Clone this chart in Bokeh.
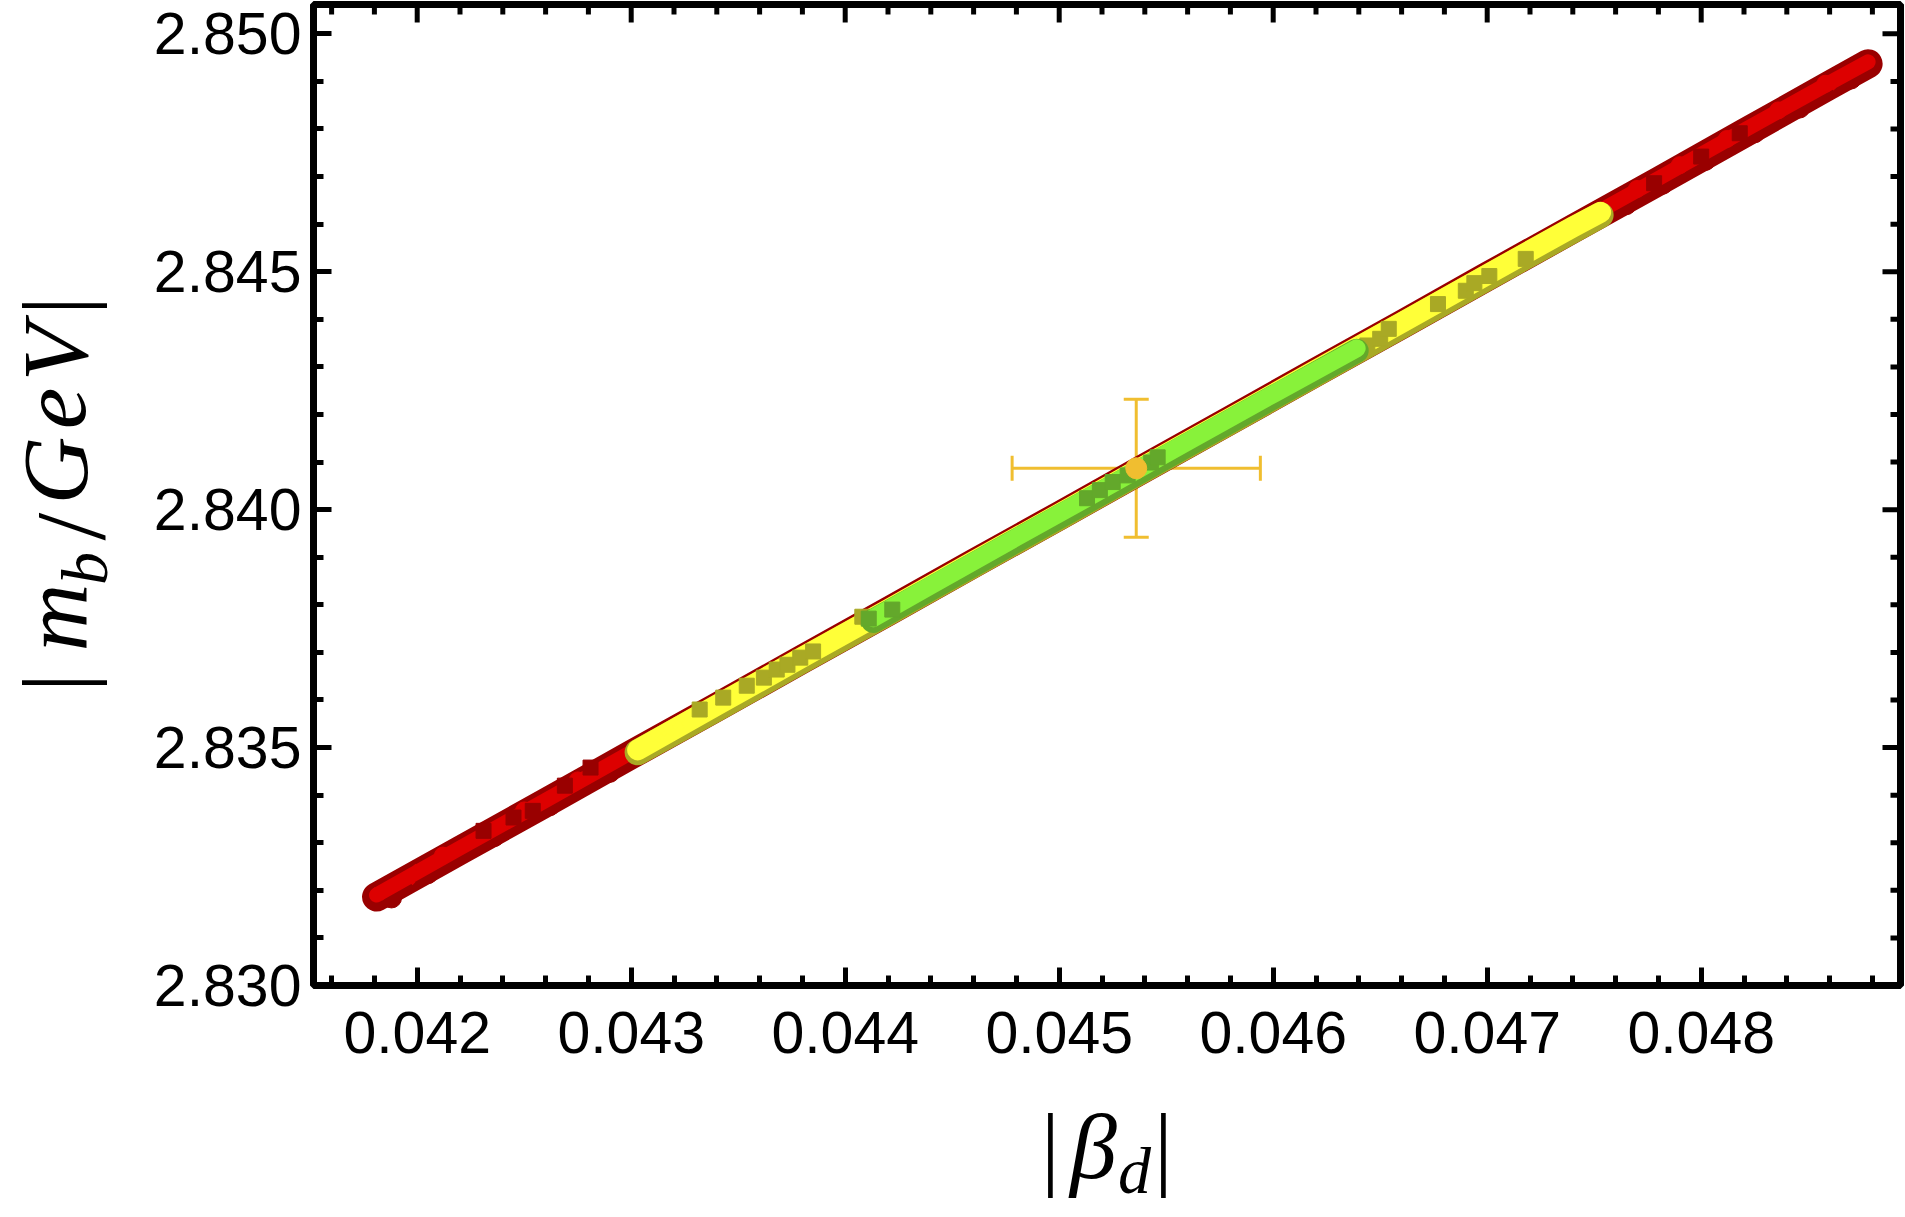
from bokeh.plotting import figure
from bokeh.layouts import row, column
from bokeh.models import (SingleIntervalTicker, NumeralTickFormatter, Label,
                          Whisker, TeeHead, ColumnDataSource, Range1d)
from bokeh.embed import file_html
from bokeh.resources import INLINE

# ---------------- data ----------------
# full (red) band centre line
red_x = [0.04181, 0.04220, 0.04260, 0.04300, 0.04340, 0.04380, 0.04420, 0.04460, 0.04500, 0.04540,
         0.04580, 0.04620, 0.04660, 0.04700, 0.04740, 0.04780, 0.04820, 0.04860, 0.04878]
red_y = [2.83186, 2.83284, 2.83384, 2.83485, 2.83585, 2.83686, 2.83786, 2.83887, 2.83987, 2.84088,
         2.84188, 2.84289, 2.84389, 2.84490, 2.84590, 2.84690, 2.84791, 2.84892, 2.84937]
red_core_y = [2.83190, 2.83289, 2.83389, 2.83490, 2.83590, 2.83691, 2.83791, 2.83892, 2.83992, 2.84093,
              2.84193, 2.84294, 2.84394, 2.84495, 2.84596, 2.84696, 2.84797, 2.84897, 2.84941]
# scalloped edge of the red band (dark red circles)
bump_dred_x = [0.04188, 0.04205, 0.04236, 0.04262, 0.04290, 0.04765, 0.04782, 0.04802, 0.04825,
               0.04846, 0.04870]
bump_dred_y = [2.83184, 2.83235, 2.83313, 2.83378, 2.83448, 2.84641, 2.84684, 2.84734, 2.84792,
               2.84844, 2.84905]
bump_red_x = [0.04212, 0.04250, 0.04275, 0.04770, 0.04790, 0.04812, 0.04836, 0.04858]
bump_red_y = [2.83273, 2.83368, 2.83431, 2.84674, 2.84724, 2.84779, 2.84839, 2.84895]

# yellow band
yel_x = [0.04303, 0.04340, 0.04380, 0.04420, 0.04460, 0.04500, 0.04540, 0.04580, 0.04620, 0.04660,
         0.04700, 0.04740, 0.04753]
olive_y = [2.83490, 2.83582, 2.83683, 2.83783, 2.83884, 2.83984, 2.84085, 2.84185, 2.84286, 2.84386,
           2.84487, 2.84587, 2.84619]
yel_y = [2.83495, 2.83589, 2.83690, 2.83790, 2.83891, 2.83991, 2.84092, 2.84192, 2.84293, 2.84393,
         2.84494, 2.84594, 2.84625]

# green band
grn_x = [0.04413, 0.04440, 0.04480, 0.04520, 0.04560, 0.04600, 0.04639]
grn_y = [2.83766, 2.83834, 2.83935, 2.84035, 2.84136, 2.84236, 2.84334]
lgrn_y = [2.83772, 2.83841, 2.83942, 2.84042, 2.84143, 2.84243, 2.84339]

# square markers
sq_olive_x = [0.04332, 0.04343, 0.04354, 0.04362, 0.04368, 0.04373, 0.04379, 0.04385, 0.04408,
              0.04644, 0.04650, 0.04654, 0.04677, 0.04690, 0.04694, 0.04701, 0.04718]
sq_olive_y = [2.83580, 2.83605, 2.83630, 2.83647, 2.83664, 2.83674, 2.83689, 2.83702, 2.83775,
              2.84345, 2.84359, 2.84380, 2.84432, 2.84460, 2.84476, 2.84491, 2.84527]
sq_green_x = [0.04411, 0.04422, 0.04513, 0.04519, 0.04525, 0.04532, 0.04543, 0.04546]
sq_green_y = [2.83771, 2.83790, 2.84024, 2.84041, 2.84058, 2.84072, 2.84099, 2.84110]
sq_dred_x = [0.04231, 0.04245, 0.04254, 0.04269, 0.04281, 0.04778, 0.04800, 0.04818]
sq_dred_y = [2.83325, 2.83353, 2.83367, 2.83420, 2.83458, 2.84686, 2.84742, 2.84791]
x_red_x = [0.04182, 0.04196, 0.04201, 0.04860]
x_red_y = [2.83193, 2.83225, 2.83242, 2.84895]
x_yel_x = [0.04311, 0.04317, 0.04322]
x_yel_y = [2.83523, 2.83536, 2.83551]

# measured point with errors
pt_x = [0.04536]
pt_y = [2.84087]
pt_xerr = [0.00058]
pt_yerr = [0.00145]

# axis ticks
x_major = [0.042, 0.043, 0.044, 0.045, 0.046, 0.047, 0.048]
y_major = [2.830, 2.835, 2.840, 2.845, 2.850]
tick_format = "0.000"

# ---------------- layout (canvas px == page px) ----------------
W, H = 1905, 1215
WY = 125                       # width of y-title strip
HP = 1090                      # height of main plot
HX = H - HP                    # height of x-title strip
PL, PR, PT, PB = 313, 1900, 4, 985      # frame edges in page px
X0, X1 = 0.0415154, 0.0489313
Y0, Y1 = 2.830, 2.850616

p = figure(width=W - WY, height=HP, output_backend="svg", toolbar_location=None,
           x_range=Range1d(X0, X1), y_range=Range1d(Y0, Y1),
           min_border_left=PL - WY, min_border_right=W - PR, min_border_top=PT,
           min_border_bottom=HP - PB)
p.xgrid.grid_line_color = None
p.ygrid.grid_line_color = None
p.outline_line_color = "black"
p.outline_line_width = 7
p.background_fill_color = "white"
p.border_fill_color = "white"

p.xaxis.ticker = SingleIntervalTicker(interval=0.001, num_minor_ticks=5)
p.yaxis.ticker = SingleIntervalTicker(interval=0.005, num_minor_ticks=5)
for ax in p.xaxis + p.yaxis:
    ax.axis_line_color = None
    ax.major_tick_in = 18
    ax.major_tick_out = 0
    ax.minor_tick_in = 10
    ax.minor_tick_out = 0
    ax.major_tick_line_width = 5
    ax.minor_tick_line_width = 5
    ax.major_tick_line_color = "black"
    ax.minor_tick_line_color = "black"
    ax.major_label_text_font = "Liberation Sans"
    ax.major_label_text_font_size = "59px"
    ax.major_label_text_color = "black"
    ax.formatter = NumeralTickFormatter(format=tick_format)
p.xaxis.major_label_standoff = 26
p.yaxis.major_label_standoff = 12

# mirrored ticks on top and right edges of the frame
px_per_x = (PR - PL) / (X1 - X0)
px_per_y = (PB - PT) / (Y1 - Y0)
x_minor = [round(0.0416 + 0.0002 * i, 5) for i in range(37)]
x_minor = [v for v in x_minor if all(abs(v - m) > 1e-7 for m in x_major) and X0 < v < X1]
y_minor = [round(2.830 + 0.001 * i, 3) for i in range(21)]
y_minor = [v for v in y_minor if all(abs(v - m) > 1e-7 for m in y_major)]
p.segment(x0=x_major, x1=x_major, y0=[Y1] * len(x_major), y1=[Y1 - 18 / px_per_y] * len(x_major),
          line_width=5, line_color="black")
p.segment(x0=x_minor, x1=x_minor, y0=[Y1] * len(x_minor), y1=[Y1 - 10 / px_per_y] * len(x_minor),
          line_width=5, line_color="black")
p.segment(x0=[X1] * len(y_major), x1=[X1 - 18 / px_per_x] * len(y_major), y0=y_major, y1=y_major,
          line_width=5, line_color="black")
p.segment(x0=[X1] * len(y_minor), x1=[X1 - 10 / px_per_x] * len(y_minor), y0=y_minor, y1=y_minor,
          line_width=5, line_color="black")

# ---------------- bands ----------------
DRED, RED = "#990000", "#DD0000"
OLIVE, YEL = "#A9A925", "#FFFF38"
MGRN, LGRN = "#63A82B", "#88F23A"

p.line(red_x, red_y, line_width=29, line_color=DRED, line_cap="round", line_join="round")
p.scatter(bump_dred_x, bump_dred_y, marker="circle", size=20, color=DRED)
p.line(red_x, red_core_y, line_width=15, line_color=RED, line_cap="round", line_join="round")
p.scatter(bump_red_x, bump_red_y, marker="circle", size=17, color=RED)
p.scatter(sq_dred_x, sq_dred_y, marker="square", size=15, color=DRED)
p.scatter(x_red_x, x_red_y, marker="x", size=15, line_width=4, color=RED)

p.line(yel_x, olive_y, line_width=26, line_color=OLIVE, line_cap="round", line_join="round")
p.line(yel_x, yel_y, line_width=21, line_color=YEL, line_cap="round", line_join="round")
p.scatter(x_yel_x, x_yel_y, marker="x", size=14, line_width=4, color=YEL)
p.scatter(sq_olive_x, sq_olive_y, marker="square", size=15, color=OLIVE)

p.line(grn_x, grn_y, line_width=24, line_color=MGRN, line_cap="round", line_join="round")
p.line(grn_x, lgrn_y, line_width=18, line_color=LGRN, line_cap="round", line_join="round")
p.scatter(sq_green_x, sq_green_y, marker="square", size=15, color=MGRN)

# ---------------- measured point ----------------
ORG = "#F0BE30"
src = ColumnDataSource(dict(
    x=pt_x, y=pt_y,
    xl=[a - b for a, b in zip(pt_x, pt_xerr)], xu=[a + b for a, b in zip(pt_x, pt_xerr)],
    yl=[a - b for a, b in zip(pt_y, pt_yerr)], yu=[a + b for a, b in zip(pt_y, pt_yerr)]))
for base, lo, hi, dim in (("x", "yl", "yu", "height"), ("y", "xl", "xu", "width")):
    p.add_layout(Whisker(source=src, base=base, lower=lo, upper=hi, dimension=dim,
                         line_color=ORG, line_width=3,
                         lower_head=TeeHead(size=25, line_color=ORG, line_width=3),
                         upper_head=TeeHead(size=25, line_color=ORG, line_width=3)))
p.scatter("x", "y", source=src, marker="circle", size=21, color=ORG)

# ---------------- axis titles (composed math) in their own strips ----------------
def strip(w, h, bt, bb, yr):
    f = figure(width=w, height=h, output_backend="svg", toolbar_location=None,
               x_range=Range1d(0, w), y_range=Range1d(*yr),
               min_border_left=0, min_border_right=0, min_border_top=bt, min_border_bottom=bb,
               x_axis_location=None, y_axis_location=None)
    f.xgrid.grid_line_color = None
    f.ygrid.grid_line_color = None
    f.outline_line_color = None
    f.background_fill_color = "white"
    f.border_fill_color = "white"
    return f

# y strip: frame shares the main frame's vertical extent, data y = HP - page y
fy = strip(WY, HP, PT, HP - PB, (HP - PB, HP - PT))
# x strip: data y = HX - (page y - HP)
fx = strip(W, HX, 0, 0, (0, HX))

def lab(fig, text, x, y, size, italic=True, angle=0):
    fig.add_layout(Label(x=x, y=y, text=text, text_font="Liberation Serif",
                         text_font_style="italic" if italic else "normal",
                         text_font_size=f"{size}px", text_color="black",
                         text_align="center", text_baseline="middle",
                         angle=angle, angle_units="deg"))

C = 0.34   # centre of the text box above the baseline, in em

# y title |m_b/GeV| : (page x of baseline, page y of glyph centre); rotated, "up" = -x
def ylab(text, bx, py, size, italic=True):
    lab(fy, text, bx - C * size, HP - py, size, italic, 90)

ylab("|", 86, 682, 94, italic=False)
ylab("m", 86, 617, 94)
ylab("b", 106, 568, 66)
ylab("/", 104, 526, 100, italic=False)
ylab("G", 86, 470, 94)
ylab("e", 86, 408, 94)
ylab("V", 86, 352, 94)
ylab("|", 86, 305, 94, italic=False)

# x title |β_d| : (page x of glyph centre, page y of baseline)
def xlab(text, px, by, size, italic=True):
    lab(fx, text, px, HX - (by - C * size - HP), size, italic, 0)

xlab("|", 1050, 1177, 94, italic=False)
xlab("β", 1093, 1177, 94)
xlab("d", 1134, 1192, 66)
xlab("|", 1163, 1177, 94, italic=False)

layout = column(row(fy, p), fx)
open("out.html", "w").write(file_html(layout, INLINE))
